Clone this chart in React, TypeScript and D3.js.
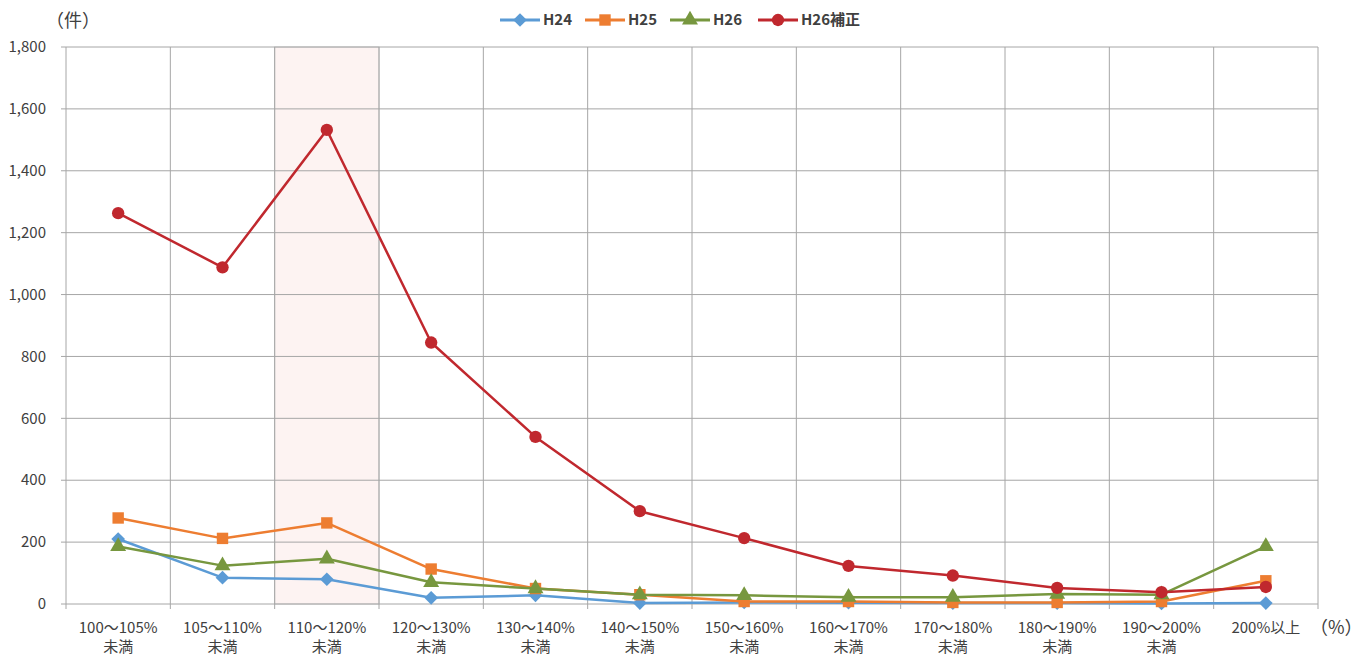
import * as d3 from 'd3';
import React from 'react';

const categories = [
  ['100～105%', '未満'],
  ['105～110%', '未満'],
  ['110～120%', '未満'],
  ['120～130%', '未満'],
  ['130～140%', '未満'],
  ['140～150%', '未満'],
  ['150～160%', '未満'],
  ['160～170%', '未満'],
  ['170～180%', '未満'],
  ['180～190%', '未満'],
  ['190～200%', '未満'],
  ['200%以上', ''],
];

const h24 = [210, 85, 80, 20, 28, 3, 5, 4, 3, 3, 2, 3];
const h25 = [278, 212, 262, 113, 50, 30, 8, 8, 5, 5, 8, 75];
const h26 = [186, 124, 146, 70, 50, 30, 28, 22, 22, 32, 30, 186];
const h26Adj = [1263, 1088, 1532, 845, 540, 300, 213, 123, 92, 52, 38, 55];

const yTicks = [0, 200, 400, 600, 800, 1000, 1200, 1400, 1600, 1800];
const highlightIndex = 2;

const width = 1363;
const height = 657;
const margin = { top: 47, right: 45, bottom: 53, left: 66 };
const font = '"Noto Sans CJK JP", "Noto Sans", sans-serif';
const textColor = '#404040';
const gridColor = '#a6a6a6';

const series = [
  { name: 'H24', values: h24, color: '#5B9BD5', marker: 'diamond' },
  { name: 'H25', values: h25, color: '#ED7D31', marker: 'square' },
  { name: 'H26', values: h26, color: '#77973F', marker: 'triangle' },
  { name: 'H26補正', values: h26Adj, color: '#C0282E', marker: 'circle' },
];

const markerPath = (type: string) => {
  if (type === 'diamond') return d3.symbol(d3.symbolDiamond2, 120)()!;
  if (type === 'square') return d3.symbol(d3.symbolSquare, 130)()!;
  if (type === 'triangle') return d3.symbol(d3.symbolTriangle, 110)()!;
  return d3.symbol(d3.symbolCircle, 120)()!;
};

function App() {
  const x = d3
    .scaleBand()
    .domain(categories.map((_, i) => String(i)))
    .range([margin.left, width - margin.right]);
  const y = d3
    .scaleLinear()
    .domain([0, 1800])
    .range([height - margin.bottom, margin.top]);
  const cx = (i: number) => x(String(i))! + x.bandwidth() / 2;
  const line = d3
    .line<number>()
    .x((_, i) => cx(i))
    .y((d) => y(d));

  const bounds = categories.map((_, i) => x(String(i))!).concat(width - margin.right);
  const legendX = [500, 585, 670, 758];

  return (
    <svg width={width} height={height} style={{ position: 'absolute', left: 0, top: 0 }} fontFamily={font}>
      <rect width={width} height={height} fill="#fff" />
      {/* highlighted band */}
      <rect
        x={x(String(highlightIndex))}
        y={y(1800)}
        width={x.bandwidth()}
        height={y(0) - y(1800)}
        fill="#fdf3f2"
        stroke="#c8c8c8"
      />
      {/* gridlines */}
      {yTicks.map((t) => (
        <g key={t}>
          <line x1={margin.left - 5} x2={width - margin.right} y1={y(t)} y2={y(t)} stroke={gridColor} />
          <text x={46} y={y(t)} dy="0.35em" textAnchor="end" fontSize={15} fill={textColor}>
            {d3.format(',')(t)}
          </text>
        </g>
      ))}
      {bounds.map((b, i) => (
        <line key={i} x1={b} x2={b} y1={y(1800)} y2={y(0) + 5} stroke={gridColor} />
      ))}
      <text x={46} y={27} fontSize={18} fill={textColor}>
        （件）
      </text>
      {categories.map((c, i) => (
        <text key={i} x={cx(i)} y={633} textAnchor="middle" fontSize={15} fill={textColor}>
          <tspan x={cx(i)}>{c[0]}</tspan>
          <tspan x={cx(i)} dy={19}>
            {c[1]}
          </tspan>
        </text>
      ))}
      <text x={1310} y={634} fontSize={18} fill={textColor}>
        （%）
      </text>
      {/* series */}
      {series.map((s) => (
        <g key={s.name}>
          <path d={line(s.values)!} fill="none" stroke={s.color} strokeWidth={2.5} strokeLinejoin="round" />
          {s.values.map((v, i) => (
            <path key={i} d={markerPath(s.marker)} transform={`translate(${cx(i)},${y(v)})`} fill={s.color} />
          ))}
        </g>
      ))}
      {/* legend */}
      {series.map((s, i) => (
        <g key={s.name} transform={`translate(${legendX[i]},20)`}>
          <line x1={0} x2={40} stroke={s.color} strokeWidth={3} />
          <path d={markerPath(s.marker)} transform="translate(20,0)" fill={s.color} />
          <text x={43} dy="0.35em" fontSize={15} fill={textColor} fontWeight={600}>
            {s.name}
          </text>
        </g>
      ))}
    </svg>
  );
}

export default App;
